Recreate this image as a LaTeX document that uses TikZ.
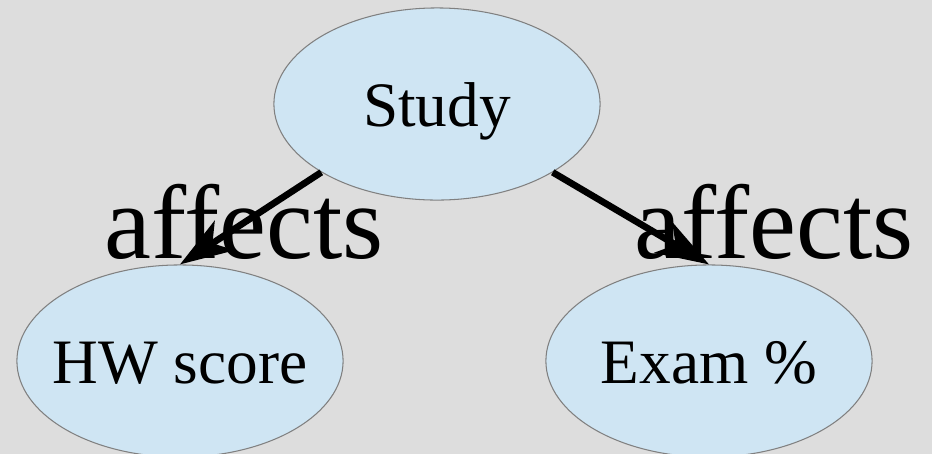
\documentclass[tikz,border=0pt]{standalone}
\usepackage{fontspec}
\setmainfont{Liberation Serif}
\usetikzlibrary{arrows.meta,shapes.geometric}
\definecolor{bggray}{RGB}{221,221,221}
\definecolor{nodeblue}{RGB}{207,229,243}
\definecolor{rimgray}{RGB}{128,128,128}
\newcommand\vartext[1]{\makebox[0pt]{#1}}
\begin{document}
\begin{tikzpicture}[x=0.01cm,y=-0.01cm,
    var/.style={ellipse,draw=rimgray,line width=0.3pt,fill=nodeblue,
        minimum width=3.26cm,minimum height=1.92cm,inner sep=0pt,
        text height=12.6pt,text depth=0pt,font=\fontsize{18}{18}\selectfont},
    link/.style={line width=1.9pt,-{Stealth[length=15pt,width=10pt,inset=4pt]}},
    lbl/.style={font=\fontsize{30}{30}\selectfont,inner sep=0pt,anchor=base}]
    \useasboundingbox (0,0) rectangle (932,454);
    \fill [bggray] (0,0) rectangle (932,454);
    \clip (0,0) rectangle (932,454);
    \node[var] (study) at (437,104) {\vartext{Study}};
    \node[var] (hw) at (180,361) {\vartext{HW score}};
    \node[var] (exam) at (709,361) {\vartext{Exam \%}};
    \draw[link] (study.south west) -- (hw.north);
    \draw[link] (study.south east) -- (exam.north);
    \node[lbl] (afftext1) at (244,258) {affects};
    \node[lbl,anchor=base west] (afftext2) at (634,258) {affects};
\end{tikzpicture}
\end{document}
